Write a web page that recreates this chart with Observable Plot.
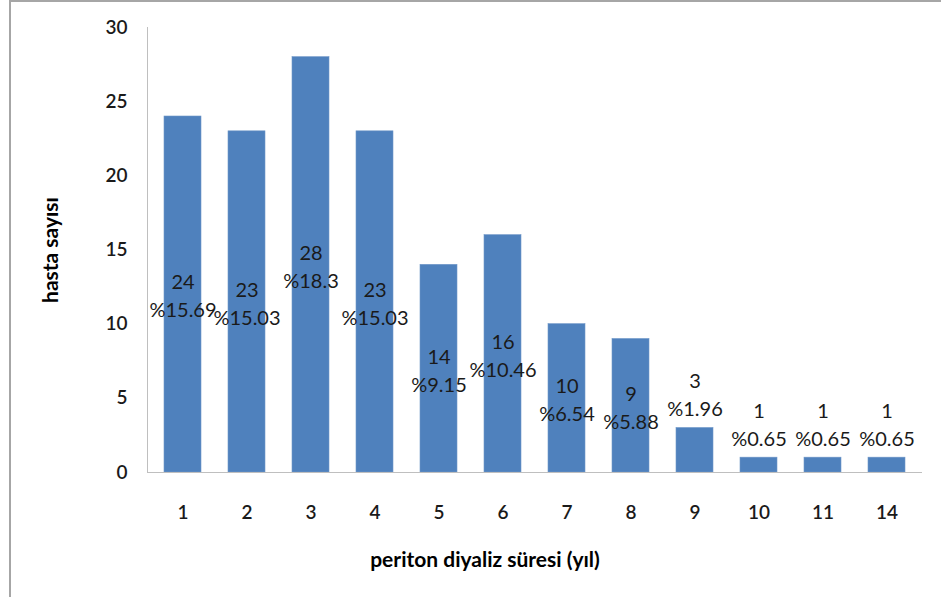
<!DOCTYPE html>
<html>
<head>
<meta charset="utf-8">
<script src="https://cdn.jsdelivr.net/npm/d3@7"></script>
<script src="https://cdn.jsdelivr.net/npm/@observablehq/plot@0.6"></script>
<style>
  html, body { margin: 0; padding: 0; background: #fff; }
  #wrap { position: relative; width: 941px; height: 597px; overflow: hidden; }
  #border {
    position: absolute; left: 9px; top: 0px; right: -10px; bottom: -10px;
    border-left: 2px solid #a6a6a6; border-top: 2px solid #a6a6a6;
  }
  #chart { position: absolute; left: 0; top: 0; }
</style>
</head>
<body>
<div id="wrap">
  <div id="border"></div>
  <div id="chart"></div>
</div>
<script>
// Peritoneal dialysis duration (years) vs number of patients
const years = ["1", "2", "3", "4", "5", "6", "7", "8", "9", "10", "11", "14"];
const patients = [24, 23, 28, 23, 14, 16, 10, 9, 3, 1, 1, 1];
const percents = [15.69, 15.03, 18.3, 15.03, 9.15, 10.46, 6.54, 5.88, 1.96, 0.65, 0.65, 0.65];
const yTicks = [0, 5, 10, 15, 20, 25, 30];

const rows = years.map((y, i) => ({
  year: y,
  count: patients[i],
  label: `${patients[i]}\n%${percents[i]}`
}));
// Tall bars carry their label inside; short bars get it just above
const tall = rows.filter(d => d.count >= 5);
const short = rows.filter(d => d.count < 5);

const labelStyle = {
  fontSize: 20,
  fill: "#1a1a1a",
  lineHeight: 1.4,
  fontFamily: "Lato"
};

const chart = Plot.plot({
  width: 941,
  height: 597,
  marginLeft: 147,
  marginRight: 19,
  marginTop: 27,
  marginBottom: 125,
  style: { fontFamily: "Lato", background: "transparent", color: "#1a1a1a" },
  x: { domain: years, paddingInner: 0.42, paddingOuter: 0.21, label: null },
  y: { domain: [0, 30], label: null },
  marks: [
    Plot.frame({ anchor: "left", stroke: "#bfbfbf" }),
    Plot.barY(rows, { x: "year", y: "count", fill: "#4f81bd", stroke: "#6f97c8", strokeWidth: 0.6 }),
    Plot.ruleY([0], { stroke: "#bfbfbf", strokeWidth: 1.2 }),
    Plot.axisY({
      ticks: yTicks, tickSize: 0, tickPadding: 20,
      fontSize: 19, fontWeight: 600, label: null
    }),
    Plot.axisX({
      tickSize: 0, tickPadding: 33,
      fontSize: 19, fontWeight: 600, label: null
    }),
    Plot.text(tall, {
      x: "year", y: d => d.count / 2, text: "label",
      lineAnchor: "middle", ...labelStyle
    }),
    Plot.text(short, {
      x: "year", y: "count", text: "label",
      lineAnchor: "bottom", dy: -12, ...labelStyle
    }),
    Plot.text(["hasta sayısı"], {
      frameAnchor: "left", textAnchor: "middle", dx: -96, rotate: -90,
      text: d => d, fontSize: 21, fontWeight: "bold", fill: "#000"
    }),
    Plot.text(["periton diyaliz süresi (yıl)"], {
      frameAnchor: "bottom", dx: -50, dy: 94,
      text: d => d, fontSize: 21, fontWeight: "bold", fill: "#000"
    })
  ]
});

document.getElementById("chart").append(chart);
</script>
</body>
</html>
